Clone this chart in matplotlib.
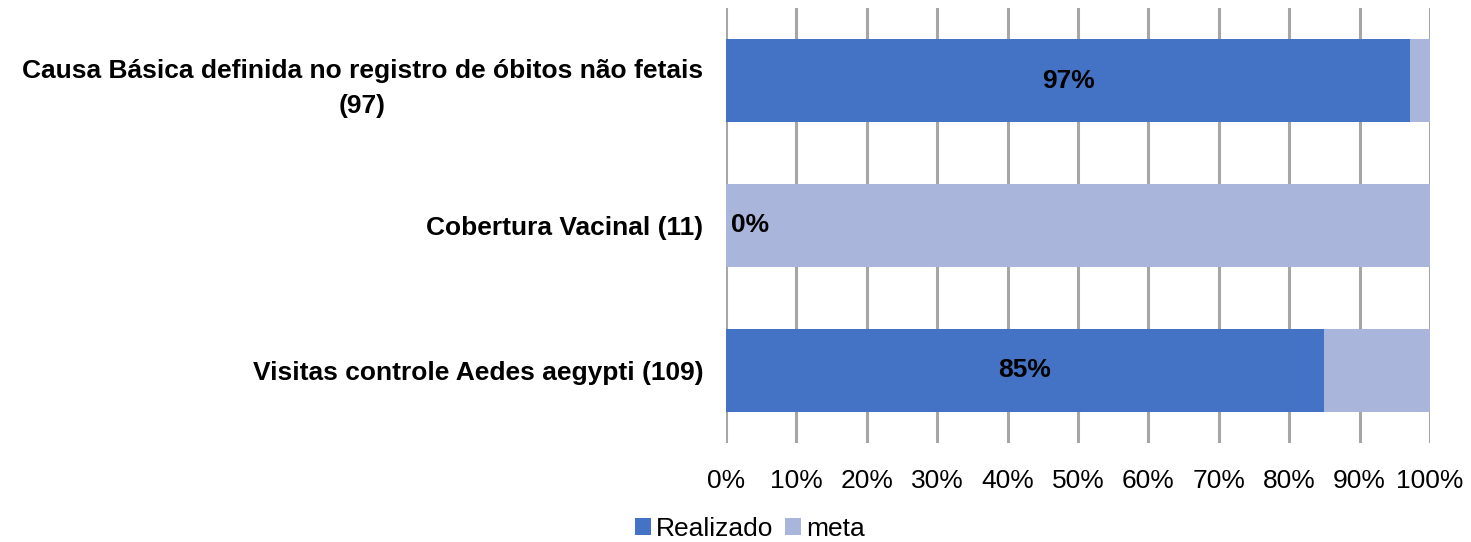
import numpy as np
import matplotlib
matplotlib.use("Agg")
import matplotlib.pyplot as plt
import matplotlib.ticker as ticker

plt.rcParams['font.family'] = ['Liberation Sans', 'DejaVu Sans']

categories = ["Causa Básica definida no registro de óbitos não fetais\n(97)",
              "Cobertura Vacinal (11)",
              "Visitas controle Aedes aegypti (109)"]
realizado = [97.2, 0, 84.9]
labels = ["97%", "0%", "85%"]
meta = [100 - v for v in realizado]

c_real = '#4472C4'
c_meta = '#A9B5DA'
fs = 19

fig = plt.figure(figsize=(14.71, 5.42), dpi=100)
ax = fig.add_axes([0.4936, 0.1827, 0.4785, 0.8025])

y = np.arange(len(categories))[::-1]
ax.barh(y, realizado, height=0.566, color=c_real, label='Realizado', zorder=3)
ax.barh(y, meta, left=realizado, height=0.566, color=c_meta, label='meta', zorder=3)

for yi, v, lab in zip(y, realizado, labels):
    if v == 0:
        ax.text(0.7, yi, lab, ha='left', va='center', fontsize=fs, fontweight='bold', zorder=4)
    else:
        ax.text(v / 2, yi, lab, ha='center', va='center', fontsize=fs, fontweight='bold', zorder=4)

ax.set_xlim(0, 100)
ax.set_ylim(-0.5, 2.5)
ax.xaxis.set_major_locator(ticker.MultipleLocator(10))
ax.xaxis.set_major_formatter(ticker.FuncFormatter(lambda v, p: '%d%%' % v))
ax.set_yticks(y)
ax.set_yticklabels(categories, fontsize=fs, fontweight='bold', multialignment='center',
                   linespacing=1.6)
ax.tick_params(axis='y', length=0, pad=16.5)
ax.tick_params(axis='x', length=0, pad=19, labelsize=fs)
ax.grid(axis='x', color='#A6A6A6', linewidth=2.2, zorder=0)
for s in ax.spines.values():
    s.set_visible(False)

fig.legend(loc='lower center', bbox_to_anchor=(0.51, -0.042), ncol=2, frameon=False,
           fontsize=fs, handlelength=0.6, handleheight=0.6, handletextpad=0.2, columnspacing=0.45)

plt.savefig("out.png")
plt.close()
